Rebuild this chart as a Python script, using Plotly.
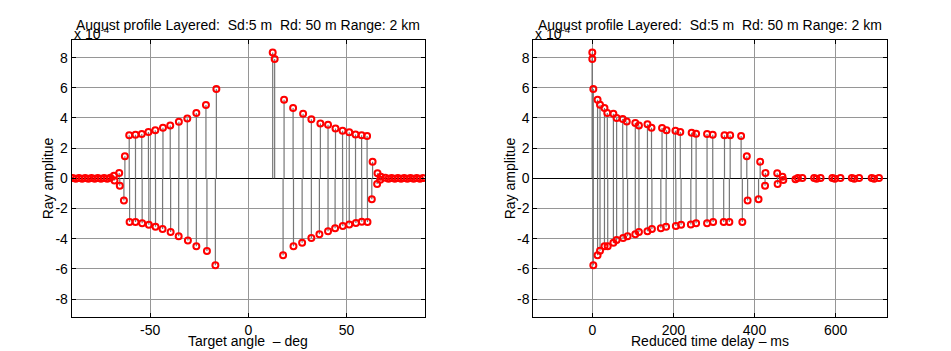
import plotly.graph_objects as go

# ---------------- data (amplitudes in units of 1e-4) ----------------
angle_pos = [-68.5, -65.8, -62.9, -60.7, -57.5, -54.3, -50.9, -47.4, -43.5, -39.8, -35.4, -31.1, -26.5, -21.6, -16.3,
             12.4, 13.4, 18.2, 22.8, 27.9, 32.1, 36.7, 40.6, 44.4, 48.0, 51.4, 54.6, 57.7, 60.5, 63.3, 65.8, 67.5]
amp_pos = [0.17, 0.35, 1.46, 2.85, 2.89, 2.94, 3.07, 3.18, 3.36, 3.51, 3.75, 3.97, 4.33, 4.86, 5.92,
           8.34, 7.90, 5.21, 4.66, 4.28, 3.91, 3.64, 3.55, 3.31, 3.16, 3.05, 2.91, 2.85, 2.80, 1.10, 0.33, 0.10]
angle_neg = [-68.2, -65.5, -63.4, -60.5, -57.5, -54.1, -50.7, -47.3, -43.7, -39.6, -35.5, -30.8, -26.5, -21.1, -16.8,
             17.7, 23.0, 27.4, 32.1, 36.2, 40.6, 44.2, 48.1, 51.4, 54.8, 57.8, 60.7, 62.9, 65.6, 67.2]
amp_neg = [-0.15, -0.49, -1.46, -2.89, -2.89, -2.98, -3.07, -3.20, -3.36, -3.55, -3.84, -4.11, -4.50, -4.81, -5.76,
           -5.10, -4.50, -4.26, -3.95, -3.71, -3.51, -3.31, -3.16, -3.05, -2.96, -2.87, -2.89, -1.39, -0.38, -0.10]
angle_tail = [-89.5, -87.9, -86.3, -84.7, -83.1, -81.5, -79.9, -78.3, -76.7, -75.1, -73.5, -71.9, -70.3,
              69.8, 71.4, 73.0, 74.6, 76.2, 77.8, 79.4, 81.0, 82.6, 84.2, 85.8, 87.4, 89.0]
amp_tail = [0.02, -0.02, 0.02, -0.02, 0.02, -0.02, 0.02, -0.02, 0.02, -0.02, 0.02, -0.02, 0.04,
            0.04, -0.03, 0.02, -0.02, 0.02, -0.02, 0.02, -0.02, 0.02, -0.02, 0.02, -0.02, 0.02]

delay_pos = [0, 0, 2.5, 13, 19, 30, 37, 52, 60, 75, 85, 106, 115, 136, 146, 172, 183, 205, 217, 245, 256,
             283, 297, 326, 340, 367, 381, 414, 427, 456, 469]
dly_amp_pos = [8.34, 7.90, 5.92, 5.21, 4.88, 4.66, 4.33, 4.28, 4.00, 3.93, 3.77, 3.66, 3.51, 3.58, 3.36, 3.33,
               3.18, 3.16, 3.07, 3.02, 2.96, 2.94, 2.89, 2.85, 2.85, 2.80, 1.46, 1.10, 0.35, 0.33, 0.11]
delay_neg = [2.5, 13, 19, 30, 38, 52, 60, 76, 87, 106, 115, 136, 147, 169, 182, 206, 219, 243, 256, 283, 298,
             324, 338, 370, 383, 410, 426, 457, 471]
dly_amp_neg = [-5.76, -5.10, -4.79, -4.50, -4.50, -4.26, -4.08, -3.95, -3.84, -3.71, -3.55, -3.51, -3.36, -3.31,
               -3.20, -3.16, -3.07, -3.05, -2.98, -2.98, -2.89, -2.89, -2.89, -2.89, -1.46, -1.39, -0.49, -0.38, -0.11]
delay_tail = [501, 507, 518, 547, 553, 563, 592, 598, 612, 640, 646, 658, 689, 695, 707]
dly_amp_tail = [-0.06, 0.03, 0.02, 0.02, -0.02, 0.02, 0.02, -0.02, 0.02, 0.02, -0.02, 0.02, 0.02, -0.02, 0.02]

y_ticks = [-8, -6, -4, -2, 0, 2, 4, 6, 8]
x1_ticks = [-50, 0, 50]
x2_ticks = [0, 200, 400, 600]

title_text = "August profile Layered:  Sd:5 m  Rd: 50 m Range: 2 km"

FONT = "Liberation Sans, Arial, sans-serif"
STEM = "#777777"
GRID = "#969696"


def stem_xy(xs, ys):
    sx, sy = [], []
    for x, y in zip(xs, ys):
        sx += [x, x, None]
        sy += [0, y, None]
    return sx, sy


fig = go.Figure()

panels = [
    ("x", "y", angle_pos + angle_neg + angle_tail, amp_pos + amp_neg + amp_tail),
    ("x2", "y2", delay_pos + delay_neg + delay_tail, dly_amp_pos + dly_amp_neg + dly_amp_tail),
]
for xa, ya, xs, ys in panels:
    sx, sy = stem_xy(xs, ys)
    fig.add_trace(go.Scatter(x=sx, y=sy, mode="lines", xaxis=xa, yaxis=ya,
                             line=dict(color=STEM, width=1.2), hoverinfo="skip", showlegend=False))
    fig.add_trace(go.Scatter(x=xs, y=ys, mode="markers", xaxis=xa, yaxis=ya,
                             marker=dict(symbol="circle-open", size=6, color="red",
                                         line=dict(color="red", width=2)),
                             showlegend=False))

H = 351.0
W = 951.0
ydom = [1 - 317.2 / H, 1 - 39.5 / H]
x1dom = [71.7 / W, 425.0 / W]
x2dom = [533.3 / W, 886.7 / W]

axis_common = dict(showline=True, linecolor="black", linewidth=1, mirror="ticks",
                   ticks="inside", ticklen=4, tickcolor="black",
                   showgrid=True, gridcolor=GRID, gridwidth=1,
                   tickfont=dict(family=FONT, size=14, color="black"))

y_text = [str(v) for v in y_ticks]
fig.update_layout(
    width=951, height=351,
    margin=dict(l=0, r=0, t=0, b=0),
    paper_bgcolor="white", plot_bgcolor="white",
    font=dict(family=FONT, size=14, color="black"),
    xaxis=dict(domain=x1dom, range=[-90, 90], tickvals=x1_ticks, ticktext=[str(v) for v in x1_ticks],
               zeroline=False, anchor="y", **axis_common),
    yaxis=dict(domain=ydom, range=[-9.2, 9.2], tickvals=y_ticks, ticktext=y_text, anchor="x",
               zeroline=True, zerolinecolor="black", zerolinewidth=1, **axis_common),
    xaxis2=dict(domain=x2dom, range=[-145.5, 726], tickvals=x2_ticks, ticktext=[str(v) for v in x2_ticks],
                zeroline=False, anchor="y2", **axis_common),
    yaxis2=dict(domain=ydom, range=[-9.2, 9.2], tickvals=y_ticks, ticktext=y_text, anchor="x2",
                zeroline=True, zerolinecolor="black", zerolinewidth=1, **axis_common),
)

ann = []
for dom in (x1dom, x2dom):
    cx = (dom[0] + dom[1]) / 2
    ann.append(dict(text=title_text, x=cx, y=1 - 25 / H, xref="paper", yref="paper",
                    xanchor="center", yanchor="middle", showarrow=False,
                    font=dict(family=FONT, size=14, color="black")))
    ann.append(dict(text="x 10<sup>-4</sup>", x=dom[0], y=1 - 33 / H, xref="paper", yref="paper",
                    xanchor="left", yanchor="middle", showarrow=False,
                    font=dict(family=FONT, size=14, color="black")))
for xp in (48 / W, 510 / W):
    ann.append(dict(text="Ray amplitue", x=xp, y=(ydom[0] + ydom[1]) / 2, xref="paper", yref="paper",
                    textangle=-90, xanchor="center", yanchor="middle", showarrow=False,
                    font=dict(family=FONT, size=14, color="black")))
ann.append(dict(text="Target angle  \u2013 deg", x=(x1dom[0] + x1dom[1]) / 2, y=1 - 341 / H,
                xref="paper", yref="paper", xanchor="center", yanchor="middle", showarrow=False,
                font=dict(family=FONT, size=14, color="black")))
ann.append(dict(text="Reduced time delay \u2013 ms", x=(x2dom[0] + x2dom[1]) / 2, y=1 - 341 / H,
                xref="paper", yref="paper", xanchor="center", yanchor="middle", showarrow=False,
                font=dict(family=FONT, size=14, color="black")))
fig.update_layout(annotations=ann)

fig.write_html("out.html")
